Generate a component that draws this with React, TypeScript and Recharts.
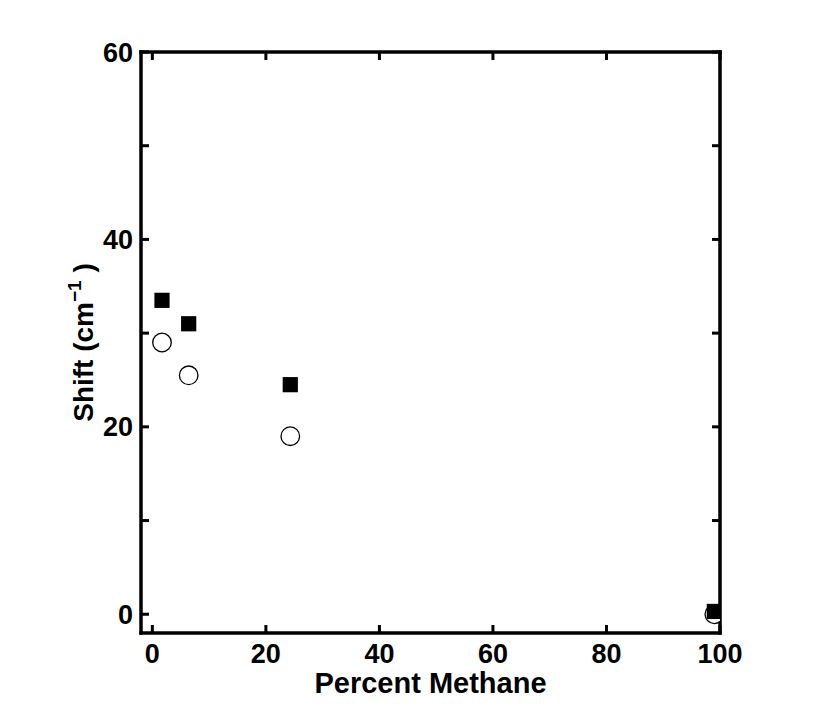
import { ScatterChart, Scatter, XAxis, YAxis, Label } from "recharts";

// percent methane in the mixture
const methane = [1.7, 6.4, 24.3, 99];
// shift (cm^-1), filled squares
const shiftSquares = [33.5, 31.0, 24.5, 0.3];
// shift (cm^-1), open circles
const shiftCircles = [29.0, 25.5, 19.0, 0.0];

const xTicks = [0, 20, 40, 60, 80, 100];
const yTicks = [0, 10, 20, 30, 40, 50, 60];

const squares = methane.map((x, i) => ({ x, y: shiftSquares[i] }));
const circles = methane.map((x, i) => ({ x, y: shiftCircles[i] }));

const font = "'Liberation Sans', Arial, Helvetica, sans-serif";
const axisLine = { stroke: "#000", strokeWidth: 3.5, strokeLinecap: "square" as const };
const tickLine = { stroke: "#000", strokeWidth: 3 };
const tickFont = { fill: "#000", fontSize: 27, fontWeight: "bold", fontFamily: font };
const blank = () => "";

const YTitle = (props: any) => {
  const vb = props.viewBox;
  const cx = 93;
  const cy = vb.y + vb.height / 2;
  return (
    <text
      x={cx}
      y={cy}
      textAnchor="middle"
      transform={`rotate(-90, ${cx}, ${cy})`}
      fontFamily={font}
      fontWeight="bold"
      fontSize={28}
      fill="#000"
    >
      <tspan>Shift (cm</tspan>
      <tspan dy={-12} fontSize={19}>−1</tspan>
      <tspan dy={12}> )</tspan>
    </text>
  );
};

export default function App() {
  return (
    <div style={{ position: "absolute", left: 0, top: 0, background: "#fff" }}>
      <ScatterChart
        width={830}
        height={711}
        margin={{ top: 42, right: 100, bottom: 15, left: 81 }}
        style={{ fontFamily: font }}
      >
        <XAxis
          xAxisId="b"
          dataKey="x"
          type="number"
          domain={[-2, 100]}
          allowDataOverflow
          ticks={xTicks}
          height={63}
          axisLine={axisLine}
          tickLine={tickLine}
          tickSize={-8}
          tickMargin={19}
          tick={tickFont}
        >
          <Label
            value="Percent Methane"
            position="insideBottom"
            offset={3}
            style={{ fontFamily: font, fontWeight: "bold", fontSize: 29, fill: "#000" }}
          />
        </XAxis>
        <XAxis
          xAxisId="t"
          orientation="top"
          dataKey="x"
          type="number"
          domain={[-2, 100]}
          allowDataOverflow
          ticks={xTicks}
          height={10}
          axisLine={axisLine}
          tickLine={tickLine}
          tickSize={-8}
          tickFormatter={blank}
        />
        <YAxis
          yAxisId="l"
          dataKey="y"
          type="number"
          domain={[-2, 60]}
          allowDataOverflow
          ticks={yTicks}
          width={60}
          axisLine={axisLine}
          tickLine={tickLine}
          tickSize={-8}
          tickMargin={16}
          tick={tickFont}
          tickFormatter={(v: number) => (v % 20 === 0 ? String(v) : "")}
        >
          <Label content={YTitle} />
        </YAxis>
        <YAxis
          yAxisId="r"
          orientation="right"
          dataKey="y"
          type="number"
          domain={[-2, 60]}
          allowDataOverflow
          ticks={yTicks}
          width={10}
          axisLine={axisLine}
          tickLine={tickLine}
          tickSize={-8}
          tickFormatter={blank}
        />
        <Scatter
          data={circles}
          xAxisId="t"
          yAxisId="r"
          isAnimationActive={false}
          shape={(p: any) => (
            <circle cx={p.cx} cy={p.cy} r={9.3} fill="#fff" stroke="#000" strokeWidth={1.3} />
          )}
        />
        <Scatter
          data={squares}
          xAxisId="b"
          yAxisId="l"
          isAnimationActive={false}
          shape={(p: any) => (
            <rect x={p.cx - 7.6} y={p.cy - 7.6} width={15.2} height={15.2} fill="#000" />
          )}
        />
      </ScatterChart>
    </div>
  );
}
